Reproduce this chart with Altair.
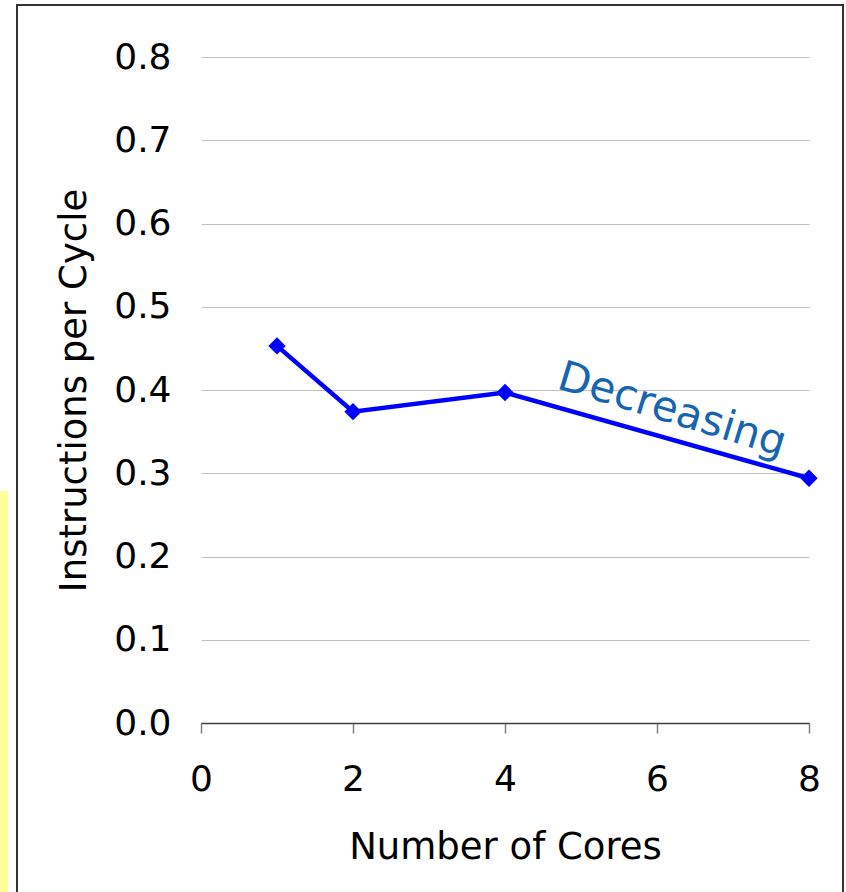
import altair as alt
import pandas as pd

cores = [1, 2, 4, 8]
ipc = [0.453, 0.374, 0.397, 0.294]

x_ticks = [0, 2, 4, 6, 8]
y_ticks = [0.0, 0.1, 0.2, 0.3, 0.4, 0.5, 0.6, 0.7, 0.8]

note_text = ["Decreasing"]
note_x = [6.2]
note_y = [0.376]

df = pd.DataFrame({"cores": cores, "ipc": ipc})
note_df = pd.DataFrame({"x": note_x, "y": note_y, "t": note_text})

FONT = "DejaVu Sans"
W, H = 608, 666
PL, PT = 201, 57

x_enc = alt.X(
    "cores:Q",
    scale=alt.Scale(domain=[0, 8], nice=False),
    axis=alt.Axis(
        values=x_ticks, format="d", title="Number of Cores", grid=False,
        domainColor="#404040", domainWidth=1.5,
        tickColor="#808080", tickSize=10, tickWidth=1.5,
        labelFontSize=36, labelFont=FONT, labelColor="#000000",
        labelPadding=29, labelFlush=False,
        titleFontSize=37, titleFont=FONT, titleFontWeight="normal",
        titleColor="#000000", titlePadding=32,
    ),
)
y_enc = alt.Y(
    "ipc:Q",
    scale=alt.Scale(domain=[0, 0.8], nice=False),
    axis=alt.Axis(
        values=y_ticks, format=".1f", title="Instructions per Cycle",
        domain=False, ticks=False, grid=True, gridColor="#c0c0c0", gridWidth=1.2,
        labelFontSize=36, labelFont=FONT, labelColor="#000000", labelPadding=30,
        titleFontSize=37, titleFont=FONT, titleFontWeight="normal",
        titleColor="#000000", titlePadding=20,
    ),
)

line = alt.Chart(df).mark_line(color="#0000ff", strokeWidth=4.5).encode(x=x_enc, y=y_enc)
points = alt.Chart(df).mark_point(
    shape="diamond", size=300, filled=True, color="#0000ff", opacity=1
).encode(x="cores:Q", y="ipc:Q")

note = alt.Chart(note_df).mark_text(
    font=FONT, fontSize=42, color="#1565b0", angle=17, align="center", baseline="middle"
).encode(x=alt.X("x:Q"), y=alt.Y("y:Q"), text="t:N")

frame = alt.Chart(df).mark_rect(
    fill=None, stroke="#333333", strokeWidth=2, clip=False
).encode(
    x=alt.value(17 - PL), x2=alt.value(843 - PL),
    y=alt.value(5 - PT), y2=alt.value(900 - PT),
)

yellow = alt.Chart(df).mark_rect(
    fill="#ffff99", clip=False
).encode(
    x=alt.value(-PL - 2), x2=alt.value(8 - PL),
    y=alt.value(491 - PT), y2=alt.value(900 - PT),
)

chart = alt.layer(yellow, frame, line, points, note).properties(
    width=W, height=H,
    padding={"left": PL, "top": PT, "right": 846 - PL - W, "bottom": 892 - PT - H},
    autosize=alt.AutoSizeParams(type="none"),
    background="#ffffff",
).configure_view(stroke=None)

chart.save("out.html", embed_options={"renderer": "svg", "actions": False})
